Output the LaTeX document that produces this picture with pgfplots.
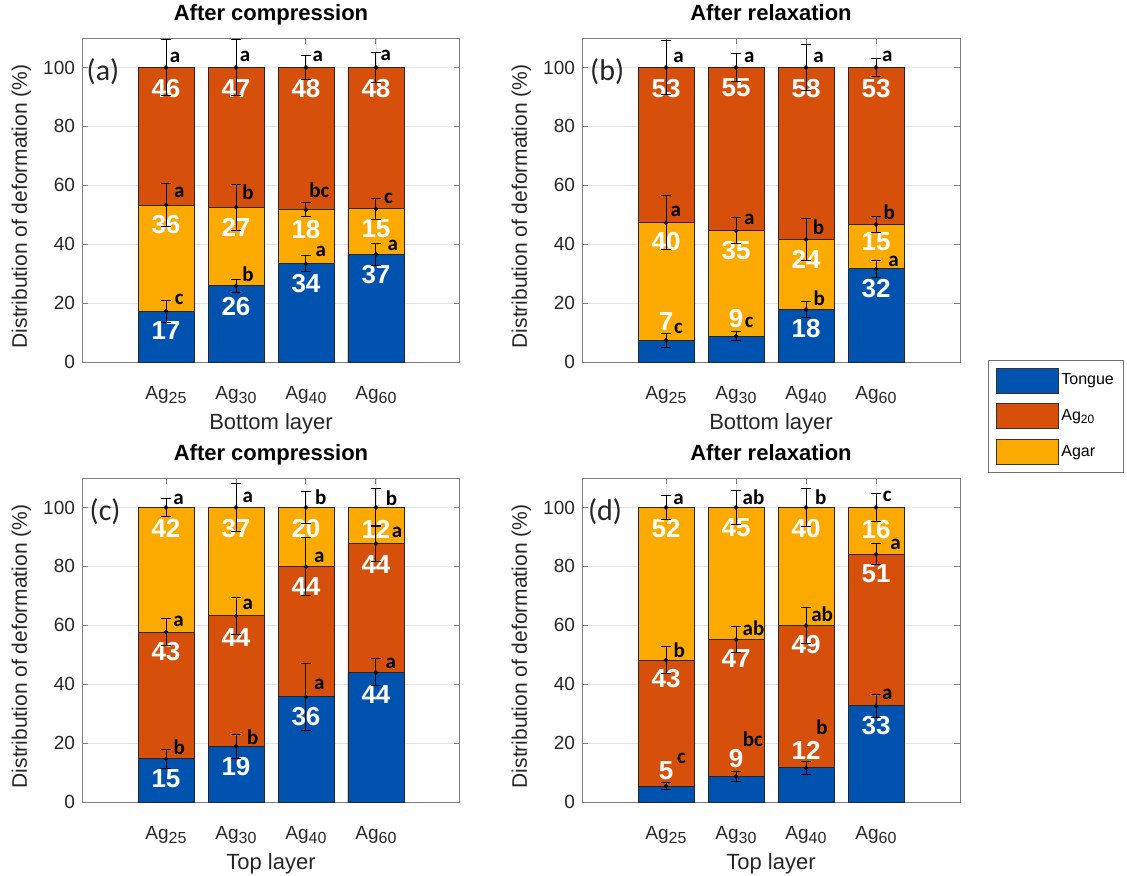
\documentclass[border=0pt]{standalone}
\usepackage{pgfplots}
\pgfplotsset{compat=1.18}
\usepackage{pgfplotstable}
\usepackage{fontspec}
\setmainfont{Liberation Sans}
\newfontfamily\calib{Carlito}
\definecolor{cBl}{RGB}{0,82,175}
\definecolor{cOr}{RGB}{214,80,12}
\definecolor{cYe}{RGB}{253,170,0}
\definecolor{axc}{RGB}{125,125,125}
\definecolor{txc}{RGB}{38,38,38}

\newcommand\VL[3]{\node[font=\fontsize{13}{13}\selectfont\bfseries, text=white, inner sep=0pt] at (axis cs:#1,#2) {#3};}
\newcommand\Lt[3]{\node[font=\calib\fontsize{10.5}{10.5}\selectfont\bfseries, text=black, inner sep=0pt] at (axis cs:#1,#2) {#3};}
\newcommand\AGs[1]{Ag\raisebox{-2.4pt}{\fontsize{8}{8}\selectfont #1}}

\pgfplotstableread{
x b1 e1 b2 e2 b3 e3
1 17.2 3.8 53.3 7.4 100 9.4
2 25.9 2.2 52.5 7.9 100 9.6
3 33.4 2.8 51.7 2.3 100 4.1
4 36.6 3.7 52.0 3.5 100 5.0
}\tabA
\pgfplotstableread{
x b1 e1 b2 e2 b3 e3
1 7.4 2.4 47.3 9.2 100 9.2
2 8.8 1.4 44.6 4.5 100 4.7
3 17.8 2.6 41.6 7.1 100 7.9
4 31.6 3.0 46.7 2.8 100 3.0
}\tabB
\pgfplotstableread{
x b1 e1 b2 e2 b3 e3
1 14.7 3.3 57.7 4.7 100 3.0
2 18.9 4.1 63.2 6.4 100 8.0
3 35.7 11.4 79.9 9.9 100 5.3
4 44.0 4.6 87.8 6.0 100 6.6
}\tabC
\pgfplotstableread{
x b1 e1 b2 e2 b3 e3
1 5.4 1.2 48.2 4.5 100 4.0
2 8.7 1.6 55.2 4.4 100 5.9
3 11.6 2.2 59.9 6.1 100 6.5
4 32.7 3.9 84.1 3.6 100 4.7
}\tabD

\pgfplotsset{
 panel/.style={
  scale only axis, width=189pt, height=162pt,
  xmin=-0.2, xmax=5.2, ymin=0, ymax=110,
  xtick={1,2,3,4}, xticklabels={\AGs{25},\AGs{30},\AGs{40},\AGs{60}},
  ytick={0,20,40,60,80,100},
  tick align=inside, major tick length=3pt,
  xtick pos=both, ytick pos=both,
  grid=major, major grid style={line width=0.4pt, color=black!11},
  axis line style={axc, line width=0.5pt},
  tick style={axc, line width=0.5pt},
  ticklabel style={font=\fontsize{9.5}{11}\selectfont, text=txc},
  xticklabel style={anchor=base, yshift=-18.5pt},
  /pgf/number format/assume math mode=true,
  ylabel={Distribution of deformation (\%)},
  ylabel style={at={(axis description cs:-0.16,0.48)}, anchor=center, font=\fontsize{10.5}{12}\selectfont, text=txc},
  xlabel style={at={(axis description cs:0.5,0)}, anchor=base, yshift=-33.5pt, font=\fontsize{11}{13}\selectfont, text=txc},
  title style={at={(axis description cs:0.5,1)}, anchor=base, yshift=3pt, font=\fontsize{11}{13}\selectfont\bfseries, text=black},
  clip=false,
 },
 br/.style={ybar, bar width=0.8, bar shift=0pt, draw=black!85, line width=0.45pt, forget plot},
 eb/.style={forget plot, only marks, mark=*, mark size=0.9pt, black,
   error bars/.cd, y dir=both, y explicit,
   error bar style={line width=0.5pt, black},
   error mark options={rotate=90, mark size=2.5pt, line width=0.5pt, black}},
}
\newcommand\errs[1]{%
 \addplot[eb] table[x=x,y=b1,y error=e1]{#1};
 \addplot[eb] table[x=x,y=b2,y error=e2]{#1};
 \addplot[eb] table[x=x,y=b3,y error=e3]{#1};
}
\newcommand\PL[2]{\node[font=\calib\fontsize{15}{15}\selectfont, text=txc] at (axis cs:#1,98.5) {#2};}

\begin{document}
\begin{tikzpicture}
\useasboundingbox (0,0) rectangle (563.5pt,-437.5pt);

% (a)
\begin{axis}[panel, at={(41pt,-19pt)}, anchor=north west, title={After compression}, xlabel={Bottom layer}]
\addplot[br, fill=cOr] table[x=x,y=b3]{\tabA};
\addplot[br, fill=cYe] table[x=x,y=b2]{\tabA};
\addplot[br, fill=cBl] table[x=x,y=b1]{\tabA};
\VL{1}{93}{46}\VL{1}{46.5}{36}\VL{1}{10.8}{17}
\VL{2}{93}{47}\VL{2}{45.6}{27}\VL{2}{18.7}{26}
\VL{3}{93}{48}\VL{3}{45}{18}\VL{3}{26.6}{34}
\VL{4}{93}{48}\VL{4}{45.2}{15}\VL{4}{29.8}{37}
\errs{\tabA}
\Lt{1.13}{103.5}{a}\Lt{1.19}{57.5}{a}\Lt{1.19}{21.2}{c}
\Lt{2.13}{103.7}{a}\Lt{2.17}{57.5}{b}\Lt{2.17}{29.7}{b}
\Lt{3.17}{103.7}{a}\Lt{3.19}{58.2}{bc}\Lt{3.21}{37.4}{a}
\Lt{4.14}{104.1}{a}\Lt{4.18}{55.7}{c}\Lt{4.24}{39.6}{a}
\PL{0.1}{(a)}
\end{axis}

% (b)
\begin{axis}[panel, at={(291pt,-19pt)}, anchor=north west, title={After relaxation}, xlabel={Bottom layer},
  legend style={at={(axis description cs:1.074,0.006)}, anchor=north west, draw=black!55, line width=0.5pt, fill=white,
    inner xsep=4pt, inner ysep=3.5pt, row sep=5pt, nodes={inner sep=1pt, font=\fontsize{8}{9}\selectfont, text=black}},
  legend cell align=left]
\addplot[br, fill=cOr] table[x=x,y=b3]{\tabB};
\addplot[br, fill=cYe] table[x=x,y=b2]{\tabB};
\addplot[br, fill=cBl] table[x=x,y=b1]{\tabB};
\VL{1}{93}{53}\VL{1}{40.8}{40}\VL{1}{13.6}{7}
\VL{2}{93}{55}\VL{2}{37.8}{35}\VL{2}{14.7}{9}
\VL{3}{93}{58}\VL{3}{34.9}{24}\VL{3}{11.3}{18}
\VL{4}{93}{53}\VL{4}{40.8}{15}\VL{4}{25}{32}
\errs{\tabB}
\Lt{1.18}{103.5}{a}\Lt{1.14}{51}{a}\Lt{1.18}{11.3}{c}
\Lt{2.19}{103.5}{a}\Lt{2.19}{48.5}{a}\Lt{2.19}{13.3}{c}
\Lt{3.18}{103.5}{a}\Lt{3.18}{45.9}{b}\Lt{3.19}{21.8}{b}
\Lt{4.16}{103.6}{a}\Lt{4.19}{50.8}{b}\Lt{4.25}{34.3}{a}
\PL{0.16}{(b)}
\addlegendimage{legend image code/.code={\draw[fill=cBl, draw=black!80, line width=0.45pt] (0pt,-6.25pt) rectangle (31pt,6.25pt);}}
\addlegendentry{Tongue}
\addlegendimage{legend image code/.code={\draw[fill=cOr, draw=black!80, line width=0.45pt] (0pt,-6.25pt) rectangle (31pt,6.25pt);}}
\addlegendentry{Ag\textsubscript{20}}
\addlegendimage{legend image code/.code={\draw[fill=cYe, draw=black!80, line width=0.45pt] (0pt,-6.25pt) rectangle (31pt,6.25pt);}}
\addlegendentry{Agar}
\end{axis}

% (c)
\begin{axis}[panel, at={(41pt,-239pt)}, anchor=north west, title={After compression}, xlabel={Top layer}]
\addplot[br, fill=cYe] table[x=x,y=b3]{\tabC};
\addplot[br, fill=cOr] table[x=x,y=b2]{\tabC};
\addplot[br, fill=cBl] table[x=x,y=b1]{\tabC};
\VL{1}{93}{42}\VL{1}{51}{43}\VL{1}{7.9}{15}
\VL{2}{93}{37}\VL{2}{56}{44}\VL{2}{11.9}{19}
\VL{3}{93}{20}\VL{3}{73}{44}\VL{3}{29}{36}
\VL{4}{92.5}{12}\VL{4}{80.6}{44}\VL{4}{36.4}{44}
\errs{\tabC}
\Lt{1.18}{102.9}{a}\Lt{1.18}{61.2}{a}\Lt{1.19}{18.5}{b}
\Lt{2.17}{103.5}{a}\Lt{2.17}{67.2}{a}\Lt{2.24}{22.1}{b}
\Lt{3.21}{103.5}{b}\Lt{3.19}{83.1}{a}\Lt{3.19}{40}{a}
\Lt{4.22}{103.3}{b}\Lt{4.3}{91.4}{a}\Lt{4.21}{47.2}{a}
\PL{0.13}{(c)}
\end{axis}

% (d)
\begin{axis}[panel, at={(291pt,-239pt)}, anchor=north west, title={After relaxation}, xlabel={Top layer}]
\addplot[br, fill=cYe] table[x=x,y=b3]{\tabD};
\addplot[br, fill=cOr] table[x=x,y=b2]{\tabD};
\addplot[br, fill=cBl] table[x=x,y=b1]{\tabD};
\VL{1}{93}{52}\VL{1}{41.9}{43}\VL{1}{10.8}{5}
\VL{2}{93}{45}\VL{2}{48.8}{47}\VL{2}{14.7}{9}
\VL{3}{93}{40}\VL{3}{53.3}{49}\VL{3}{17.6}{12}
\VL{4}{92.5}{16}\VL{4}{77.6}{51}\VL{4}{25.8}{33}
\errs{\tabD}
\Lt{1.18}{102.9}{a}\Lt{1.19}{51.4}{b}\Lt{1.22}{14.7}{c}
\Lt{2.25}{103.5}{ab}\Lt{2.25}{59}{ab}\Lt{2.24}{21.3}{bc}
\Lt{3.21}{103.5}{b}\Lt{3.23}{63.8}{ab}\Lt{3.23}{25.3}{b}
\Lt{4.16}{103.9}{c}\Lt{4.28}{87.4}{a}\Lt{4.16}{36.7}{a}
\PL{0.13}{(d)}
\end{axis}
\end{tikzpicture}
\end{document}
